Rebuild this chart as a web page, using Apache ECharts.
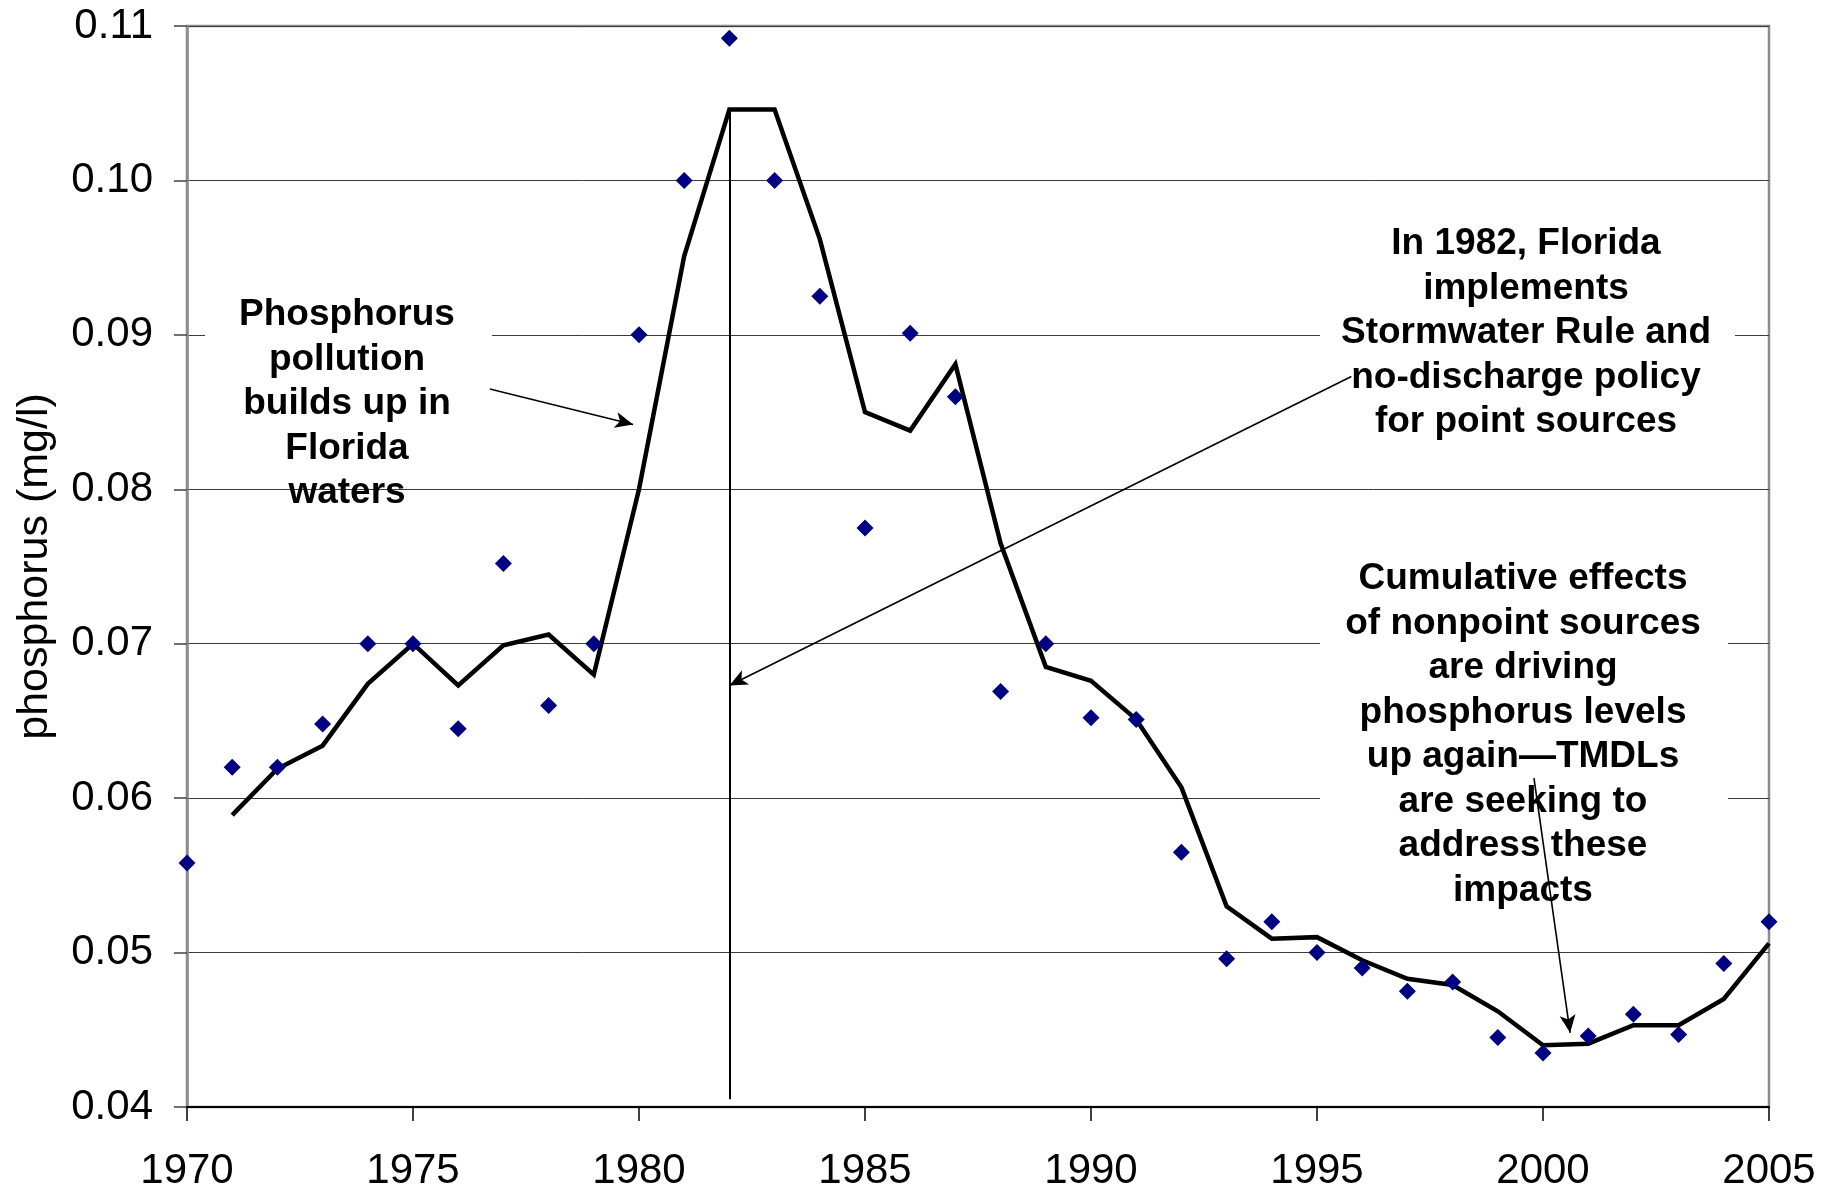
<!DOCTYPE html>
<html>
<head>
<meta charset="utf-8">
<script src="https://cdn.jsdelivr.net/npm/echarts@6/dist/echarts.min.js"></script>
<style>
html,body{margin:0;padding:0;background:#fff;}
#chart{width:1837px;height:1192px;}
</style>
</head>
<body>
<div id="chart"></div>
<script>
// ---- data ----
var years = [1970,1971,1972,1973,1974,1975,1976,1977,1978,1979,
             1980,1981,1982,1983,1984,1985,1986,1987,1988,1989,
             1990,1991,1992,1993,1994,1995,1996,1997,1998,1999,
             2000,2001,2002,2003,2004,2005];
var observed = [0.0558,0.0620,0.0620,0.0648,0.0700,0.0700,0.0645,0.0752,0.0660,0.0700,
                0.0900,0.1000,0.1092,0.1000,0.0925,0.0775,0.0901,0.0860,0.0669,0.0700,
                0.0652,0.0651,0.0565,0.0496,0.0520,0.0500,0.0490,0.0475,0.0481,0.0445,
                0.0435,0.0446,0.0460,0.0447,0.0493,0.0520];
var trend = [null,0.0589,0.0619,0.0634,0.0674,0.0700,0.0673,0.0699,0.0706,0.0680,
             0.0800,0.0951,0.1046,0.1046,0.0962,0.0850,0.0838,0.0881,0.0765,0.0685,
             0.0676,0.0651,0.0607,0.0530,0.0509,0.0510,0.0495,0.0483,0.0479,0.0462,
             0.0440,0.0441,0.0453,0.0453,0.0470,0.0506];
var xTickLabels = ['1970','1975','1980','1985','1990','1995','2000','2005'];
var yTickLabels = ['0.04','0.05','0.06','0.07','0.08','0.09','0.10','0.11'];
var yAxisTitle = 'phosphorus (mg/l)';
var note1 = 'Phosphorus\npollution\nbuilds up in\nFlorida\nwaters';
var note2 = 'In 1982, Florida\nimplements\nStormwater Rule and\nno-discharge policy\nfor point sources';
var note3 = 'Cumulative effects\nof nonpoint sources\nare driving\nphosphorus levels\nup again\u2014TMDLs\nare seeking to\naddress these\nimpacts';
// annotation arrows in data coordinates [year, value]
var arrow1 = [[1976.7,0.0865],[1979.87,0.0842]];
var arrow2 = [[1995.76,0.0873],[1982,0.0673]];
var arrow3 = [[1999.8,0.0613],[2000.6,0.0448]];
var policyLine = [[1982,0.1046],[1982,0.0405]];

var obsPairs = years.map(function(y,i){return [y, observed[i]];});
var trendPairs = [];
years.forEach(function(y,i){ if (trend[i] !== null) trendPairs.push([y, trend[i]]); });

var FONT = 'Liberation Sans';
var chart = echarts.init(document.getElementById('chart'), null, {renderer:'canvas'});

function arrowItem(a){
  return [{coord:a[0], symbol:'none'},{coord:a[1], symbol:'arrow', symbolSize:[12,18]}];
}

chart.setOption({
  animation:false,
  backgroundColor:'#ffffff',
  grid:{left:187, right:68, top:26, bottom:83, show:true,
        borderColor:'#8c8c8c', borderWidth:2.5, backgroundColor:'transparent'},
  xAxis:{
    type:'value', min:1970, max:2005, interval:5,
    axisLine:{show:true, onZero:false, lineStyle:{color:'#000', width:2}},
    axisTick:{show:true, length:14, lineStyle:{color:'#000', width:1.5}},
    axisLabel:{fontSize:42, fontFamily:FONT, color:'#000', margin:43,
      formatter:function(v){ var s=String(Math.round(v)); return xTickLabels.indexOf(s)>=0?s:''; }},
    splitLine:{show:false}
  },
  yAxis:{
    type:'value', min:0.04, max:0.11, interval:0.01,
    name:yAxisTitle, nameLocation:'middle', nameGap:130, nameRotate:90,
    nameTextStyle:{fontSize:43, fontFamily:FONT, color:'#000'},
    axisLine:{show:true, onZero:false, lineStyle:{color:'#8c8c8c', width:2.5}},
    axisTick:{show:true, length:13, lineStyle:{color:'#404040', width:1.5}},
    axisLabel:{fontSize:42, fontFamily:FONT, color:'#000', margin:34,
      formatter:function(v){ var s=v.toFixed(2); return yTickLabels.indexOf(s)>=0?s:''; }},
    splitLine:{show:true, lineStyle:{color:'#3a3a3a', width:1}}
  },
  graphic:[
    {type:'rect', z:1, shape:{x:205, y:290, width:287, height:180}, style:{fill:'#fff'}},
    {type:'rect', z:1, shape:{x:1320, y:200, width:415, height:200}, style:{fill:'#fff'}},
    {type:'rect', z:1, shape:{x:1320, y:555, width:408, height:355}, style:{fill:'#fff'}},
    {type:'text', z:3, x:347, y:404, style:{text:note1, fontSize:37, fontWeight:'bold', fontFamily:FONT,
      fill:'#000', align:'center', verticalAlign:'middle', lineHeight:44.5}},
    {type:'text', z:3, x:1526, y:333, style:{text:note2, fontSize:37, fontWeight:'bold', fontFamily:FONT,
      fill:'#000', align:'center', verticalAlign:'middle', lineHeight:44.5}},
    {type:'text', z:3, x:1523, y:735, style:{text:note3, fontSize:37, fontWeight:'bold', fontFamily:FONT,
      fill:'#000', align:'center', verticalAlign:'middle', lineHeight:44.5}}
  ],
  series:[
    {
      type:'line', data:trendPairs, showSymbol:false, symbol:'none', z:4,
      lineStyle:{color:'#000', width:4.5, join:'miter'},
      markLine:{
        silent:true, animation:false, z:5,
        label:{show:false},
        lineStyle:{color:'#000', width:1.6, type:'solid'},
        data:[arrowItem(arrow1), arrowItem(arrow2), arrowItem(arrow3)]
      }
    },
    {
      type:'scatter', data:obsPairs, symbol:'diamond', symbolSize:17, z:5,
      itemStyle:{color:'#000080', opacity:1},
      markLine:{
        silent:true, animation:false, z:3,
        symbol:['none','none'],
        label:{show:false},
        lineStyle:{color:'#000', width:2, type:'solid'},
        data:[[{coord:policyLine[0]},{coord:policyLine[1]}]]
      }
    }
  ]
});
</script>
</body>
</html>
